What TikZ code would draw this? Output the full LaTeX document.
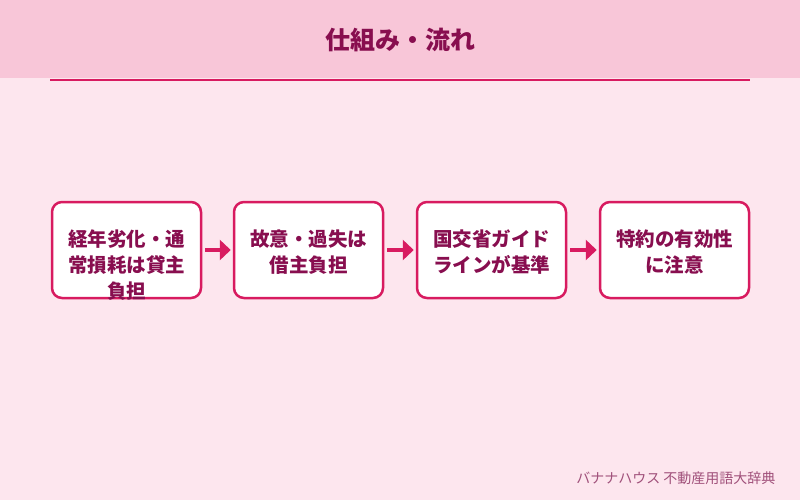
\documentclass[tikz,border=0pt]{standalone}
\usepackage{fontspec}
\newfontfamily\cjk{Noto Sans CJK JP}
\definecolor{bgpink}{HTML}{FDE6EE}
\definecolor{bandpink}{HTML}{F8C6D8}
\definecolor{linepink}{HTML}{D81B60}
\definecolor{textwine}{HTML}{880E4F}
\definecolor{footwine}{HTML}{A0507A}
\usetikzlibrary{arrows.meta,positioning,calc}

\begin{document}
\begin{tikzpicture}[x=1pt, y=-1pt,
    stepbox/.style={rectangle, rounded corners=10pt, draw=linepink, line width=2.5pt,
                    fill=white, minimum width=149pt, minimum height=96pt, inner sep=0pt},
    steptext/.style={anchor=north, align=center, text width=146pt, inner sep=0pt,
                     font=\cjk\bfseries\fontsize{19.5}{26}\selectfont, text=textwine},
    flow/.style={draw=linepink, line width=4pt, -{Triangle[length=11pt,width=20pt]},
                 shorten <=3pt, shorten >=2pt}
  ]
    % Background and header band
    \fill[bgpink] (0,0) rectangle (800,500);
    \fill[bandpink] (0,0) rectangle (800,78);
    \useasboundingbox (0,0) rectangle (800,500);

    % Title
    \node[font=\cjk\bfseries\fontsize{25}{28}\selectfont, text=textwine] (title) at (400,40) {仕組み・流れ};
    \coordinate (ruleL) at (50,80);
    \coordinate (ruleR) at (750,80);
    \draw[linepink, line width=2pt] (ruleL) -- (ruleR);

    % Step boxes
    \node[stepbox] (b1) at (126.5,250) {};
    \node[stepbox] (b2) at (308.5,250) {};
    \node[stepbox] (b3) at (491.5,250) {};
    \node[stepbox] (b4) at (674.5,250) {};

    % Step texts
    \node[steptext] (t1) at ($(b1.north)+(0,29)$) {経年劣化・通\\常損耗は貸主\\負担};
    \node[steptext] (t2) at ($(b2.north)+(0,29)$) {故意・過失は\\借主負担};
    \node[steptext] (t3) at ($(b3.north)+(0,29)$) {国交省ガイド\\ラインが基準};
    \node[steptext] (t4) at ($(b4.north)+(0,29)$) {特約の有効性\\に注意};

    % Arrows
    \draw[flow] (b1) -- (b2);
    \draw[flow] (b2) -- (b3);
    \draw[flow] (b3) -- (b4);

    % Footer
    \node[font=\cjk\fontsize{14}{16}\selectfont, text=footwine, anchor=east] (credit) at (779,478)
      {バナナハウス 不動産用語大辞典};
  \end{tikzpicture}
\end{document}
